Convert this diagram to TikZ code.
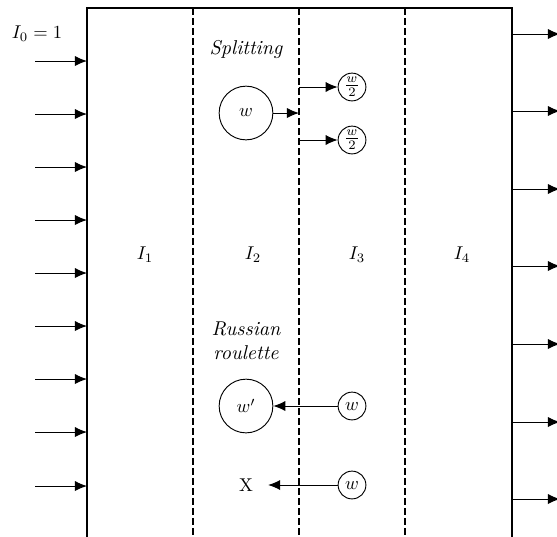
\documentclass[tikz,border=0pt]{standalone}
\usetikzlibrary{arrows.meta}
\begin{document}
\begin{tikzpicture}[x=0.54pt,y=-0.54pt,
  boxline/.style={line width=1.1pt},
  sepline/.style={line width=0.9pt,dash pattern=on 3.6pt off 1.8pt},
  flow/.style={line width=0.55pt,-{Latex[length=6.5pt,width=5.5pt]}},
  bigc/.style={circle,draw,line width=0.5pt,minimum size=29pt,inner sep=0pt},
  smallc/.style={circle,draw,line width=0.5pt,minimum size=15pt,inner sep=0pt},
  lab/.style={inner sep=1pt},
  ital/.style={inner sep=1pt,font=\fontsize{10.8}{13}\selectfont\itshape}]
\useasboundingbox (0,0) rectangle (557,536);
\clip (0,0) rectangle (557,536);
% box
\draw[boxline] (87,560) -- (87,8) -- (512,8) -- (512,560);
\foreach \x in {193,299,405} \draw[sepline] (\x,8) -- (\x,560);
% left incoming arrows
\node[lab] (i0) at (37,34) {$I_0=1$};
\foreach \i/\y in {1/61,2/114,3/167,4/220,5/273,6/326,7/379,8/432,9/486}{
  \coordinate (ls\i) at (35,\y);
  \coordinate (le\i) at (87,\y);
  \draw[flow] (ls\i) -- (le\i);
}
% right outgoing arrows
\foreach \i/\y in {1/34,2/111,3/189,4/266,5/344,6/422,7/499}{
  \coordinate (rs\i) at (512,\y);
  \coordinate (re\i) at (560,\y);
  \draw[flow] (rs\i) -- (re\i);
}
% region labels
\node[lab] (l1) at (145,255) {$I_1$};
\node[lab] (l2) at (253,255) {$I_2$};
\node[lab] (l3) at (357,255) {$I_3$};
\node[lab] (l4) at (462,255) {$I_4$};
% splitting
\node[ital] (split) at (246,49) {Splitting};
\node[bigc] (w) at (246,113) {$w$};
\coordinate (wb) at (299,113);
\draw[flow] (w) -- (wb);
\node[smallc] (h1) at (352,87) {$\frac{w}{2}$};
\node[smallc] (h2) at (352,140) {$\frac{w}{2}$};
\coordinate (h1s) at (299,87);
\coordinate (h2s) at (299,140);
\draw[flow] (h1s) -- (h1);
\draw[flow] (h2s) -- (h2);
% russian roulette
\node[ital,align=center] (rr) at (246,341) {Russian\\[0pt]roulette};
\node[bigc] (wp) at (246,406) {$w'$};
\node[smallc] (s1) at (352,406) {$w$};
\draw[flow] (s1) -- (wp);
\node[circle,minimum size=23.5pt,inner sep=0pt] (x) at (246,485) {X};
\node[smallc] (s2) at (352,485) {$w$};
\draw[flow] (s2) -- (x);
\end{tikzpicture}
\end{document}
